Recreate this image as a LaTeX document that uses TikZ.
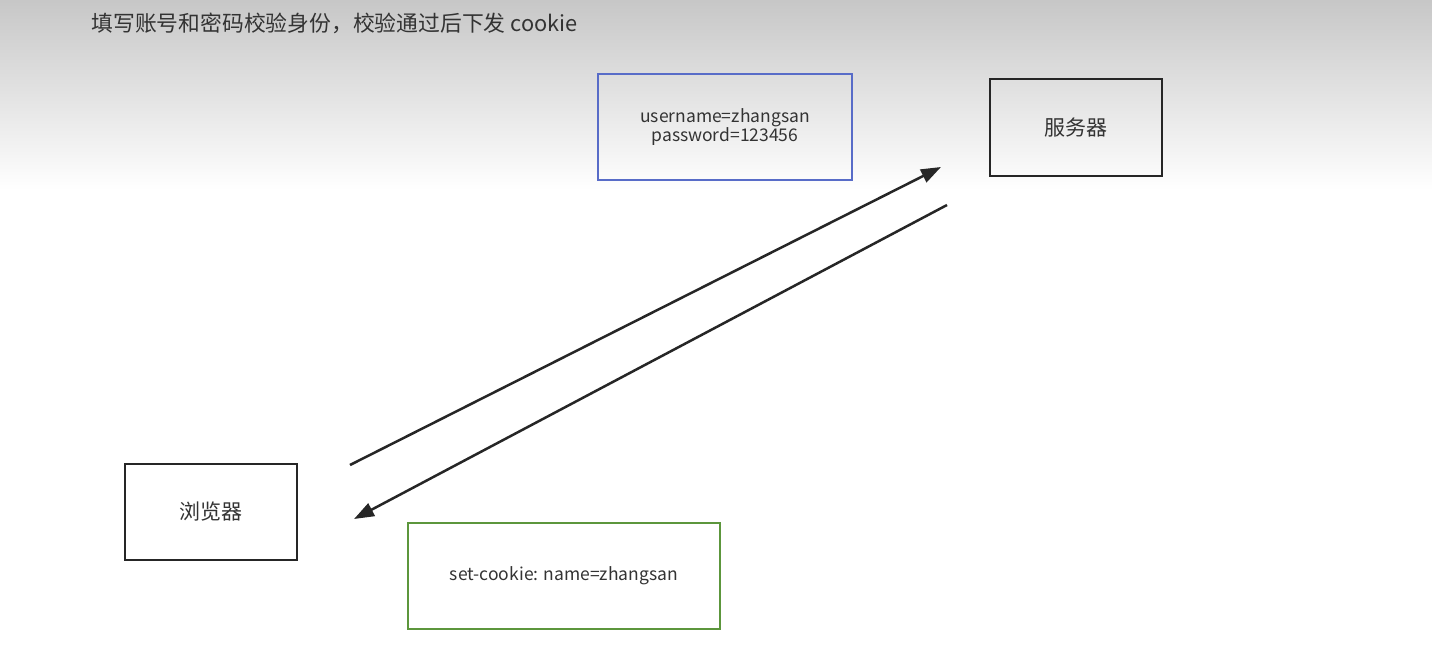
\documentclass[tikz,border=0pt]{standalone}
\usepackage{fontspec}
\setmainfont{Noto Sans CJK SC}
\usetikzlibrary{arrows.meta}
\definecolor{boxblue}{RGB}{88,108,200}
\definecolor{boxgreen}{RGB}{92,150,60}
\definecolor{txt}{RGB}{51,51,51}
\tikzstyle{rec} = [rectangle,draw=black!85,line width=2.6pt,text=txt,align=center,font=\fontsize{21}{24}\selectfont]
\tikzstyle{msg} = [rec,font=\fontsize{17.5}{22}\selectfont]
\tikzstyle{arr} = [draw=black!85,line width=2.5pt,-{Triangle[length=20pt,width=14pt]}]

\begin{document}
\begin{tikzpicture}[x=1pt,y=-1pt]
    	\useasboundingbox (0,0) rectangle (1432,656);
    	\fill[white] (0,0) rectangle (1432,656);
    	\shade[top color=black!22,bottom color=white] (0,0) rectangle (1432,190);
    	
    	\node[anchor=west,text=txt,font=\fontsize{21.8}{24}\selectfont] (title) at (88,23) {填写账号和密码校验身份，校验通过后下发 cookie};
    	
    	\node[rec,minimum width=172pt,minimum height=97pt] (server) at (1076,127.5) {服务器};
    	\node[rec,minimum width=172pt,minimum height=96pt] (browser) at (211,512) {浏览器};
    	
    	\node[msg,draw=boxblue,minimum width=254pt,minimum height=106pt] (login) at (725,127) {username=zhangsan\\[-3pt]password=123456};
    	\node[msg,draw=boxgreen,minimum width=312pt,minimum height=106pt] (cookie) at (564,576) {set-cookie: name=zhangsan};
    	
    	\coordinate (send) at (350,465);
    	\coordinate (recv) at (941,167);
    	\draw[arr] (send) -- (recv);
    	
    	\coordinate (reply) at (947,205);
    	\coordinate (back) at (354,519);
    	\draw[arr] (reply) -- (back);
    	
\end{tikzpicture}
\end{document}
